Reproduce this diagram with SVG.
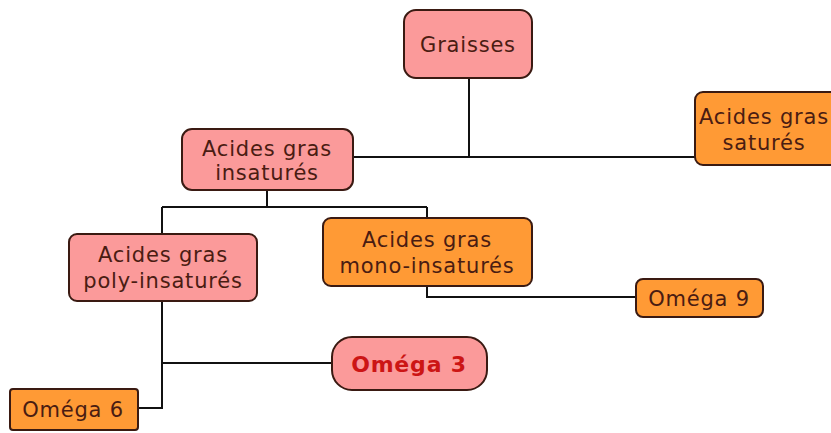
<svg xmlns="http://www.w3.org/2000/svg" width="831" height="433" viewBox="0 0 831 433">
<style>
.pink{fill:#fb9a9a;stroke:#3a1a12;stroke-width:2}
.orange{fill:#ff9a35;stroke:#3a1a12;stroke-width:2}
.t{font-family:"DejaVu Sans",Verdana,sans-serif;font-size:21px;letter-spacing:0.8px;fill:#4a1c12;text-anchor:middle}
.red{fill:#cc1515;font-weight:bold;font-size:22px;letter-spacing:0.8px}
.c{fill:none;stroke:#111;stroke-width:2}
</style>
<rect width="831" height="433" fill="#fff"/>
<g id="connectors">
<path class="c" d="M469 78V157"/>
<path class="c" d="M353 157H696"/>
<path class="c" d="M267 190V207"/>
<path class="c" d="M162 207H427"/>
<path class="c" d="M162 207V234"/>
<path class="c" d="M427 207V218"/>
<path class="c" d="M427 286V297H636"/>
<path class="c" d="M162 301V408H138"/>
<path class="c" d="M162 363H332"/>
</g>
<g id="graisses"><rect class="pink" x="404" y="10" width="128" height="68" rx="12"/><text class="t" x="468" y="52">Graisses</text></g>
<g id="insatures"><rect class="pink" x="182" y="129" width="171" height="61" rx="10"/><text class="t" x="267" y="156">Acides gras</text><text class="t" x="267" y="180">insaturés</text></g>
<g id="satures"><rect class="orange" x="695" y="92" width="150" height="73" rx="8"/><text class="t" x="764" y="124">Acides gras</text><text class="t" x="764" y="150">saturés</text></g>
<g id="poly"><rect class="pink" x="69" y="234" width="188" height="67" rx="8"/><text class="t" x="163" y="262">Acides gras</text><text class="t" x="163" y="288">poly-insaturés</text></g>
<g id="mono"><rect class="orange" x="323" y="218" width="209" height="68" rx="8"/><text class="t" x="427" y="247">Acides gras</text><text class="t" x="427" y="273">mono-insaturés</text></g>
<g id="omega9"><rect class="orange" x="636" y="279" width="127" height="38" rx="7"/><text class="t" x="699" y="306">Oméga 9</text></g>
<g id="omega3"><rect class="pink" x="332" y="337" width="155" height="53" rx="20"/><text class="t red" x="409" y="372">Oméga 3</text></g>
<g id="omega6"><rect class="orange" x="10" y="389" width="128" height="41" rx="3"/><text class="t" x="73" y="417">Oméga 6</text></g>
</svg>
